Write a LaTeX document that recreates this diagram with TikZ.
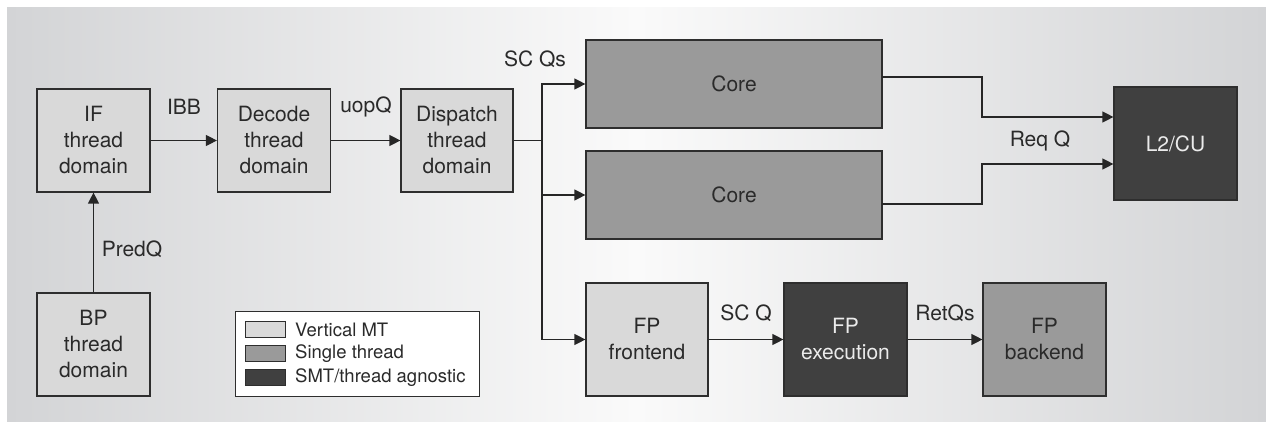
\documentclass[tikz,border=0pt]{standalone}
\usepackage{fontspec}
\setmainfont{TeX Gyre Heros}
\usetikzlibrary{arrows.meta}
\definecolor{lightfill}{HTML}{D9D9D9}
\definecolor{midfill}{HTML}{9A9A9A}
\definecolor{darkfill}{HTML}{404040}
\definecolor{edge}{HTML}{2E2E2E}
\definecolor{bgside}{HTML}{D3D4D6}
\definecolor{bgmid}{HTML}{FAFAFA}
\definecolor{txt}{HTML}{2A2A2A}
\tikzset{
  blk/.style={draw=edge, line width=1.2pt, inner sep=0pt, align=center,
    text=txt, font=\fontsize{21}{26}\selectfont},
  vmt/.style={blk, fill=lightfill},
  single/.style={blk, fill=midfill},
  smt/.style={blk, fill=darkfill, text=white!92!black},
  conn/.style={draw=black!85, line width=1.2pt},
  arr/.style={conn, -{Triangle[length=11pt,width=11pt]}},
  lbl/.style={text=txt, font=\fontsize{21}{24}\selectfont, inner sep=0pt},
  swatch/.style={draw=edge, line width=1pt, minimum width=40pt, minimum height=16pt, inner sep=0pt},
  legtxt/.style={text=txt, font=\fontsize{18.5}{20}\selectfont, inner sep=0pt, anchor=west}
}
\begin{document}
\begin{tikzpicture}[x=1pt,y=-1pt]
\useasboundingbox (0,0) rectangle (1266,422);
\fill[white] (0,0) rectangle (1266,422);
\shade[left color=bgside, right color=bgside, middle color=bgmid] (7,8) rectangle (1266,422);

% nodes (pixel coords, y downward)
\node[vmt, minimum width=113pt, minimum height=103pt] (if) at (93.5,140.5) {IF\\thread\\domain};
\node[vmt, minimum width=113pt, minimum height=103pt] (dec) at (274,140.5) {Decode\\thread\\domain};
\node[vmt, minimum width=112pt, minimum height=103pt] (dis) at (457,140.5) {Dispatch\\thread\\domain};
\node[vmt, minimum width=113pt, minimum height=103pt] (bp) at (93.5,344.5) {BP\\thread\\domain};
\node[single, minimum width=296pt, minimum height=88pt] (core1) at (734,84) {Core};
\node[single, minimum width=296pt, minimum height=88pt] (core2) at (734,195) {Core};
\node[vmt, minimum width=122pt, minimum height=113pt] (fpf) at (647,339.5) {FP\\frontend};
\node[smt, minimum width=123pt, minimum height=113pt] (fpe) at (845.5,339.5) {FP\\execution};
\node[single, minimum width=123pt, minimum height=113pt] (fpb) at (1044.5,339.5) {FP\\backend};
\node[smt, minimum width=123pt, minimum height=113pt] (l2) at (1175.5,143.5) {L2/CU};

% legend
\node[draw=edge, line width=1pt, fill=white, minimum width=244pt, minimum height=85pt, inner sep=0pt] (leg) at (357,353.5) {};
\node[swatch, fill=lightfill] (s1) at (265,329.5) {};
\node[swatch, fill=midfill] (s2) at (265,353) {};
\node[swatch, fill=darkfill] (s3) at (265,377) {};
\node[legtxt] (t1) at (295,330) {Vertical MT};
\node[legtxt] (t2) at (295,354) {Single thread};
\node[legtxt] (t3) at (295,377.5) {SMT/thread agnostic};

% connectors
\draw[arr] (if.east) -- (dec.west);
\draw[arr] (dec.east) -- (dis.west);
\draw[arr] (bp.north) -- (if.south);
\coordinate (jn) at (542,140.5);
\draw[conn] (dis.east) -- (jn);
\draw[arr] (jn) |- (core1.west);
\draw[arr] (jn) |- (core2.west);
\draw[arr] (jn) |- (fpf.west);
\draw[arr] (fpf.east) -- (fpe.west);
\draw[arr] (fpe.east) -- (fpb.west);
\coordinate (c1o) at (882,77);
\coordinate (c2o) at (882,204);
\draw[arr] (c1o) -| (982,117) -- (l2.west |- 0,117);
\draw[arr] (c2o) -| (982,164) -- (l2.west |- 0,164);

% labels
\node[lbl] (l_ibb) at (184,107) {IBB};
\node[lbl] (l_uop) at (366,107) {uopQ};
\node[lbl] (l_pred) at (132,249) {PredQ};
\node[lbl] (l_scqs) at (535,59) {SC Qs};
\node[lbl] (l_scq) at (746,313) {SC Q};
\node[lbl] (l_ret) at (945,313) {RetQs};
\node[lbl] (l_req) at (1040,141) {Req Q};
\end{tikzpicture}
\end{document}
